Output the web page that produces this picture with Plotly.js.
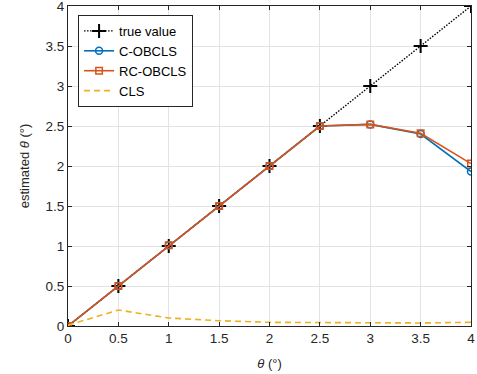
<!DOCTYPE html>
<html><head><meta charset="utf-8">
<script src="https://cdn.plot.ly/plotly-3.0.1.min.js"></script>
<style>body{margin:0;background:#fff}#c{width:477px;height:374px}</style>
</head><body><div id="c"></div>
<script>
const theta = [0, 0.5, 1, 1.5, 2, 2.5, 3, 3.5, 4];
const trueValue = [0, 0.5, 1, 1.5, 2, 2.5, 3, 3.5, 4];
const cOBCLS = [0, 0.5, 1.01, 1.5, 2.0, 2.5, 2.52, 2.4, 1.93];
const rcOBCLS = [0, 0.5, 1.01, 1.5, 2.0, 2.5, 2.52, 2.41, 2.03];
const cls = [0.01, 0.2, 0.1, 0.066, 0.046, 0.044, 0.037, 0.038, 0.046];
const tickVals = [0, 0.5, 1, 1.5, 2, 2.5, 3, 3.5, 4];
const tickText = ['0', '0.5', '1', '1.5', '2', '2.5', '3', '3.5', '4'];

const font = 'Liberation Sans, Arial, Helvetica, sans-serif';
const traces = [
  {x: theta, y: trueValue, name: 'true value', mode: 'lines+markers',
   line: {color: '#000', width: 1.4, dash: '1.5px,1.5px'},
   marker: {symbol: 'cross-thin-open', size: 10, line: {color: '#000', width: 2}}},
  {x: theta, y: cOBCLS, name: 'C-OBCLS', mode: 'lines+markers',
   line: {color: '#0072BD', width: 1.6},
   marker: {symbol: 'circle-open', size: 7, line: {color: '#0072BD', width: 1.5}}},
  {x: theta, y: rcOBCLS, name: 'RC-OBCLS', mode: 'lines+markers',
   line: {color: '#D95319', width: 1.6},
   marker: {symbol: 'square-open', size: 6.5, line: {color: '#D95319', width: 1.5}}},
  {x: theta, y: cls, name: 'CLS', mode: 'lines',
   line: {color: '#EDB120', width: 1.6, dash: '6px,4px'}}
];
const axisCommon = {
  tickvals: tickVals, ticktext: tickText, range: [0, 4],
  showgrid: true, gridcolor: '#e3e3e3', gridwidth: 1,
  zeroline: false, showline: true, linecolor: '#262626', linewidth: 1,
  mirror: 'ticks', ticks: 'inside', ticklen: 4, tickcolor: '#262626',
  ticklabeloverflow: 'allow',
  tickfont: {family: font, size: 13.5, color: '#262626'}
};
const layout = {
  width: 477, height: 374,
  margin: {l: 68, r: 6, t: 6, b: 48},
  paper_bgcolor: '#fff', plot_bgcolor: '#fff',
  font: {family: font, color: '#262626'},
  showlegend: true,
  legend: {x: 0.025, y: 0.972, xanchor: 'left', yanchor: 'top',
    bgcolor: '#fff', bordercolor: '#262626', borderwidth: 1,
    font: {family: font, size: 13, color: '#000'}, tracegroupgap: 0},
  xaxis: Object.assign({}, axisCommon, {
    title: {text: '<i>θ</i> (°)', font: {family: font, size: 13, color: '#262626'}, standoff: 13}
  }),
  yaxis: Object.assign({}, axisCommon, {
    title: {text: 'estimated <i>θ</i> (°)', font: {family: font, size: 13, color: '#262626'}, standoff: 12}
  })
};
Plotly.newPlot('c', traces, layout, {displayModeBar: false, staticPlot: true});
</script></body></html>
